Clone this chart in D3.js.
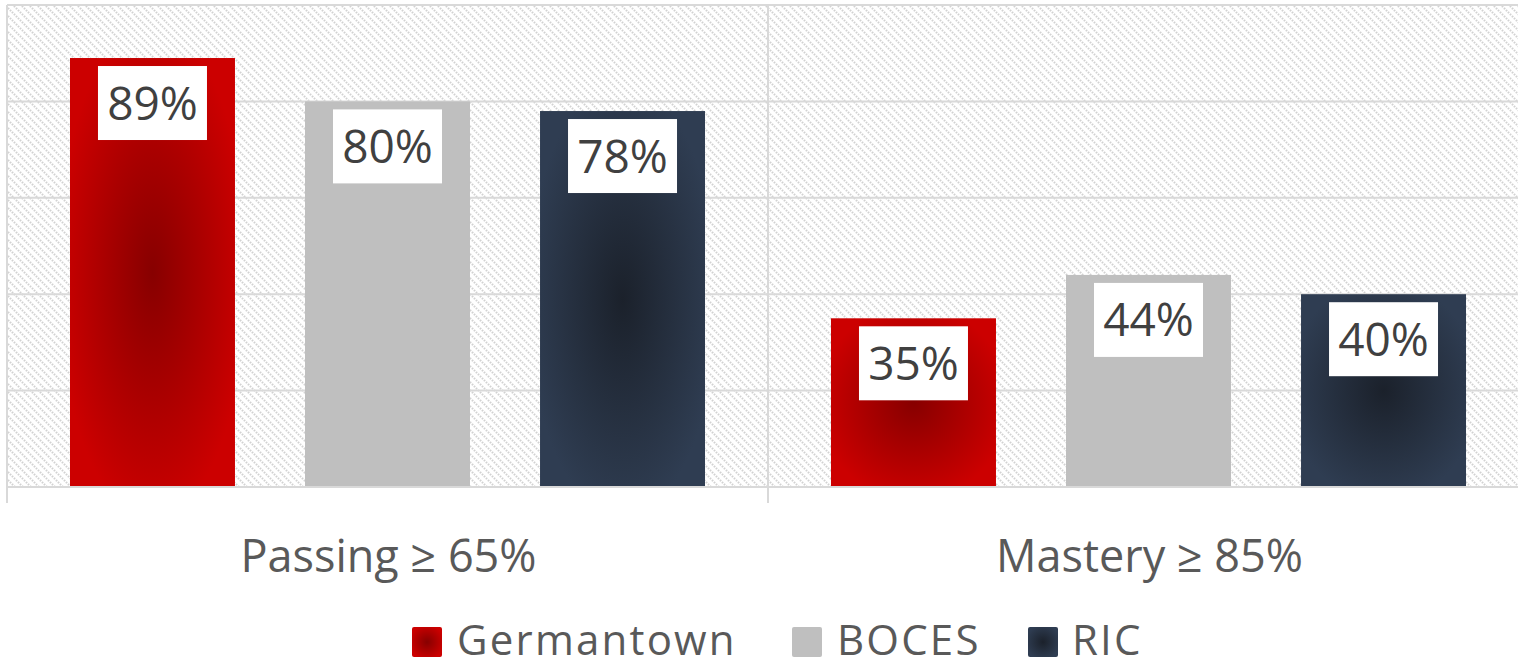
<!DOCTYPE html>
<html>
<head>
<meta charset="utf-8">
<script src="https://cdn.jsdelivr.net/npm/d3@7/dist/d3.min.js"></script>
<style>
  html, body { margin: 0; padding: 0; background: #fff; }
  svg { display: block; }
</style>
</head>
<body>
<svg id="chart" width="1518" height="666"></svg>
<script>
// Chart data
const categories = ["Passing \u2265 65%", "Mastery \u2265 85%"];
const seriesNames = ["Germantown", "BOCES", "RIC"];
const germantown = [0.89, 0.35];
const boces = [0.80, 0.44];
const ric = [0.78, 0.40];
const yTicks = [0, 0.2, 0.4, 0.6, 0.8, 1.0];

const seriesValues = [germantown, boces, ric];
const rows = categories.map((c, i) => ({
  category: c,
  values: seriesNames.map((s, j) => ({ series: s, value: seriesValues[j][i] }))
}));

const svg = d3.select("#chart");
const fontFamily = "'Open Sans', 'Noto Sans', sans-serif";

// Plot area
const plot = { left: 7, top: 5, bottom: 487, catWidth: 761 };
const plotRight = plot.left + plot.catWidth * categories.length;

const x0 = d3.scaleBand()
  .domain(categories)
  .range([plot.left, plotRight])
  .padding(0);

const x1 = d3.scaleBand()
  .domain(seriesNames)
  .range([0, x0.bandwidth()])
  .paddingInner(0.298)
  .paddingOuter(0.268);

const y = d3.scaleLinear().domain([0, 1]).range([plot.bottom, plot.top]);

// Defs: hatch pattern and bar gradients
const defs = svg.append("defs");
const hatch = defs.append("pattern")
  .attr("id", "hatch")
  .attr("patternUnits", "userSpaceOnUse")
  .attr("width", 8).attr("height", 8);
hatch.append("rect").attr("width", 8).attr("height", 8).attr("fill", "#ffffff");
hatch.append("path")
  .attr("d", "M-2,-2 L10,10 M-2,6 L2,10 M6,-2 L10,2")
  .attr("stroke", "#d2d2d2")
  .attr("stroke-width", 2)
  .attr("stroke-dasharray", "1.6,1.2");

function radial(id, inner, outer) {
  const g = defs.append("radialGradient")
    .attr("id", id)
    .attr("cx", "50%").attr("cy", "50%").attr("r", "58%");
  g.append("stop").attr("offset", "0%").attr("stop-color", inner);
  g.append("stop").attr("offset", "100%").attr("stop-color", outer);
}
radial("gradGermantown", "#870000", "#cc0000");
radial("gradRIC", "#1b212b", "#2f3d52");

const fills = {
  "Germantown": "url(#gradGermantown)",
  "BOCES": "#bfbfbf",
  "RIC": "url(#gradRIC)"
};

// Hatched plot background
svg.append("rect")
  .attr("x", plot.left)
  .attr("y", plot.top)
  .attr("width", plotRight - plot.left)
  .attr("height", plot.bottom - plot.top)
  .attr("fill", "url(#hatch)");

// Horizontal gridlines
svg.append("g")
  .selectAll("line")
  .data(yTicks)
  .join("line")
  .attr("x1", plot.left)
  .attr("x2", plotRight)
  .attr("y1", d => y(d))
  .attr("y2", d => y(d))
  .attr("stroke", "#d9d9d9")
  .attr("stroke-width", 2);

// Vertical axis line and category dividers, extending below the axis as ticks
const dividers = [plot.left].concat(categories.map(c => x0(c) + x0.bandwidth()));
svg.append("g")
  .selectAll("line")
  .data(dividers)
  .join("line")
  .attr("x1", d => d).attr("x2", d => d)
  .attr("y1", plot.top)
  .attr("y2", 503)
  .attr("stroke", "#d9d9d9")
  .attr("stroke-width", 2);

// Bars
const groups = svg.append("g")
  .selectAll("g")
  .data(rows)
  .join("g")
  .attr("transform", d => `translate(${x0(d.category)},0)`);

groups.selectAll("rect.bar")
  .data(d => d.values)
  .join("rect")
  .attr("class", "bar")
  .attr("x", d => x1(d.series))
  .attr("y", d => y(d.value))
  .attr("width", x1.bandwidth())
  .attr("height", d => y(0) - y(d.value))
  .attr("fill", d => fills[d.series]);

// Value labels in white boxes
const boxW = 109, boxH = 74;
const labels = groups.selectAll("g.lbl")
  .data(d => d.values)
  .join("g")
  .attr("class", "lbl")
  .attr("transform", d => `translate(${x1(d.series) + x1.bandwidth() / 2},${y(d.value) + 8})`);

labels.append("rect")
  .attr("x", -boxW / 2)
  .attr("y", 0)
  .attr("width", boxW)
  .attr("height", boxH)
  .attr("fill", "#ffffff");

labels.append("text")
  .attr("x", 0)
  .attr("y", boxH / 2)
  .attr("dy", "0.36em")
  .attr("text-anchor", "middle")
  .attr("font-family", fontFamily)
  .attr("font-size", 46)
  .attr("fill", "#404040")
  .text(d => d3.format(".0%")(d.value));

// Bottom axis line
svg.append("line")
  .attr("x1", plot.left)
  .attr("x2", plotRight)
  .attr("y1", y(0)).attr("y2", y(0))
  .attr("stroke", "#d9d9d9")
  .attr("stroke-width", 2);

// Category labels
svg.append("g")
  .selectAll("text")
  .data(categories)
  .join("text")
  .attr("x", d => x0(d) + x0.bandwidth() / 2 + 1)
  .attr("y", 572)
  .attr("text-anchor", "middle")
  .attr("font-family", fontFamily)
  .attr("font-size", 45)
  .attr("fill", "#595959")
  .text(d => d);

// Legend
const legendItems = [
  { name: "Germantown", sx: 412, tx: 457 },
  { name: "BOCES", sx: 792, tx: 837 },
  { name: "RIC", sx: 1028, tx: 1072 }
];
const legend = svg.append("g")
  .selectAll("g")
  .data(legendItems)
  .join("g");

legend.append("rect")
  .attr("x", d => d.sx)
  .attr("y", 627)
  .attr("width", 30)
  .attr("height", 30)
  .attr("rx", 2)
  .attr("fill", d => fills[d.name]);

legend.append("text")
  .attr("x", d => d.tx)
  .attr("y", 655)
  .attr("font-family", fontFamily)
  .attr("font-size", 42)
  .attr("letter-spacing", 2.2)
  .attr("fill", "#595959")
  .text(d => d.name);
</script>
</body>
</html>
